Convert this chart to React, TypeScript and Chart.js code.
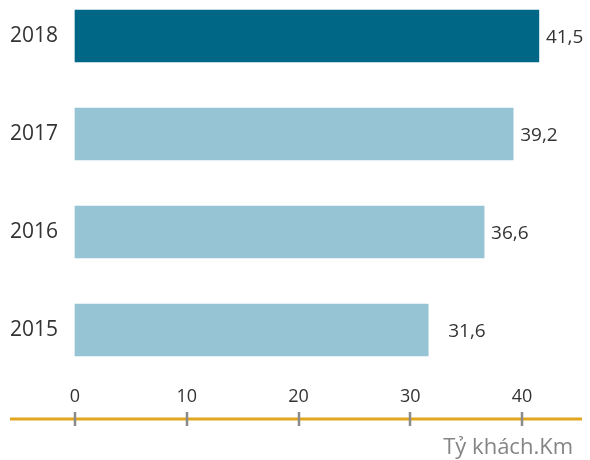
import React, { useEffect, useRef } from "react";
import { Chart, registerables } from "chart.js";

Chart.register(...registerables);

const years = ["2018", "2017", "2016", "2015"];
const passengerKm = [41.5, 39.2, 36.6, 31.6];
const valueLabels = ["41,5", "39,2", "36,6", "31,6"];
const unitLabel = "Tỷ khách.Km";

const FONT = "'Open Sans', 'Noto Sans', sans-serif";

const decorPlugin = {
  id: "decor",
  afterDatasetsDraw(chart: any) {
    const ctx = chart.ctx;
    const meta = chart.getDatasetMeta(0);
    const offsets = [7, 7, 7, 20];
    ctx.save();
    ctx.font = `19px ${FONT}`;
    ctx.fillStyle = "#333333";
    ctx.textAlign = "left";
    ctx.textBaseline = "middle";
    meta.data.forEach((bar: any, i: number) => {
      ctx.fillText(valueLabels[i], bar.x + offsets[i], bar.y + 2);
    });
    ctx.restore();
  },
  afterDraw(chart: any) {
    const ctx = chart.ctx;
    const xs = chart.scales.x;
    const lineY = 419;
    ctx.save();
    ctx.strokeStyle = "#E2A71E";
    ctx.lineWidth = 3;
    ctx.beginPath();
    ctx.moveTo(10, lineY);
    ctx.lineTo(582, lineY);
    ctx.stroke();
    ctx.strokeStyle = "#8A8A8A";
    ctx.lineWidth = 2.5;
    xs.ticks.forEach((t: any) => {
      const px = Math.round(xs.getPixelForValue(t.value));
      ctx.beginPath();
      ctx.moveTo(px, lineY - 7);
      ctx.lineTo(px, lineY + 7);
      ctx.stroke();
    });
    ctx.font = `22px ${FONT}`;
    ctx.fillStyle = "#858585";
    ctx.textAlign = "right";
    ctx.textBaseline = "middle";
    ctx.fillText(unitLabel, 573, 448);
    ctx.restore();
  },
};

export default function App() {
  const ref = useRef<HTMLCanvasElement | null>(null);
  useEffect(() => {
    if (!ref.current) return;
    const chart = new Chart(ref.current, {
      type: "bar",
      data: {
        labels: years,
        datasets: [
          {
            data: passengerKm,
            backgroundColor: passengerKm.map((_, i) => (i === 0 ? "#006886" : "#97C4D5")),
            borderWidth: 0,
            barThickness: 52,
            clip: false as any,
          },
        ],
      },
      options: {
        indexAxis: "y",
        animation: false,
        responsive: false,
        maintainAspectRatio: false,
        layout: { padding: { top: 36, left: 0, right: 12, bottom: 0 } },
        plugins: { legend: { display: false }, tooltip: { enabled: false } },
        scales: {
          y: {
            type: "category",
            offset: false,
            grid: { display: false, drawTicks: false },
            border: { display: false },
            ticks: {
              color: "#333333",
              font: { family: FONT, size: 21 },
              padding: 17,
            },
            afterFit: (s: any) => {
              s.width = 75;
            },
          },
          x: {
            min: 0,
            max: 45,
            grid: { display: false, drawTicks: false },
            border: { display: false },
            ticks: {
              stepSize: 10,
              includeBounds: false,
              color: "#333333",
              font: { family: FONT, size: 18 },
              padding: 56,
              maxRotation: 0,
            },
            afterFit: (s: any) => {
              s.height = 130;
            },
          },
        },
      },
      plugins: [decorPlugin],
    });
    return () => chart.destroy();
  }, []);
  return (
    <div style={{ position: "fixed", left: 0, top: 0, width: 590, height: 460, background: "#fff" }}>
      <canvas ref={ref} width={590} height={460} style={{ display: "block" }} />
    </div>
  );
}
